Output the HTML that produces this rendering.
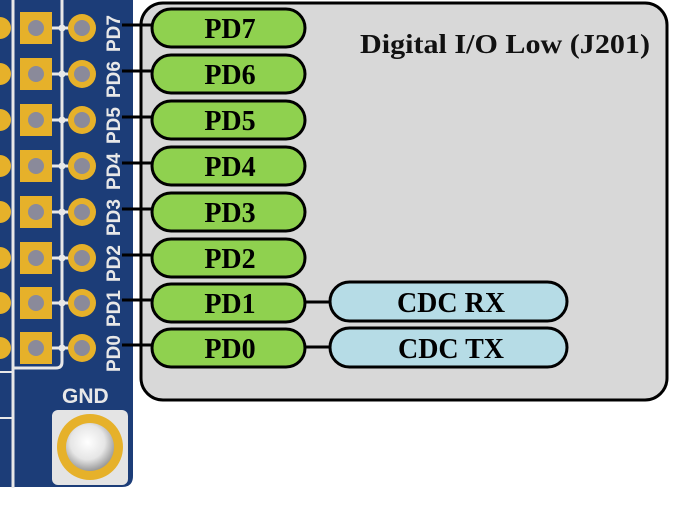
<!DOCTYPE html>
<html><head><style>
html,body{margin:0;padding:0;background:#fff;}
svg{display:block;}
</style></head><body>
<svg width="682" height="507" viewBox="0 0 682 507" xmlns="http://www.w3.org/2000/svg">
<defs>
<radialGradient id="g" cx="0.45" cy="0.4" r="0.6"><stop offset="0" stop-color="#fff"/><stop offset="0.6" stop-color="#e6e6e6"/><stop offset="1" stop-color="#9a9a9a"/></radialGradient>
</defs>
<path d="M0 0 H133 V476 Q133 487 122 487 H0 Z" fill="#1c3d78"/>
<path d="M13 0 V488" stroke="#e8e8e8" stroke-width="3" fill="none"/>
<path d="M62 0 V362 Q62 368 56 368 H13" stroke="#e8e8e8" stroke-width="3" fill="none"/>
<path d="M0 372 H13 M0 418 H13" stroke="#e8e8e8" stroke-width="2"/>
<g id="rows"></g>
<g font-family="Liberation Sans, sans-serif" font-weight="bold" font-size="19" fill="#e8e8e8">
<text transform="translate(120,52) rotate(-90)">PD7</text>
<text transform="translate(120,98) rotate(-90)">PD6</text>
<text transform="translate(120,144) rotate(-90)">PD5</text>
<text transform="translate(120,190) rotate(-90)">PD4</text>
<text transform="translate(120,236) rotate(-90)">PD3</text>
<text transform="translate(120,282) rotate(-90)">PD2</text>
<text transform="translate(120,327) rotate(-90)">PD1</text>
<text transform="translate(120,372) rotate(-90)">PD0</text>
<text x="62" y="403" font-size="21">GND</text>
</g>
<rect x="52" y="410" width="76" height="75" rx="6" fill="#e4e4e4"/>
<circle cx="90" cy="447" r="33" fill="#e6b12a"/>
<circle cx="90" cy="447" r="24" fill="url(#g)"/>
<rect x="141" y="3" width="526" height="397" rx="22" fill="#d8d8d8" stroke="#000" stroke-width="3"/>
<text x="360" y="53" font-family="Liberation Serif, serif" font-weight="bold" font-size="27" fill="#111" textLength="290" lengthAdjust="spacingAndGlyphs">Digital I/O Low (J201)</text>
<g id="pins"></g>
<g stroke="#000" stroke-width="3">
<line x1="305" y1="302" x2="330" y2="302"/>
<line x1="305" y1="347" x2="330" y2="347"/>
<rect x="330" y="282" width="237" height="39" rx="19.5" fill="#b6dce6"/>
<rect x="330" y="328" width="237" height="39" rx="19.5" fill="#b6dce6"/>
</g>
<g font-family="Liberation Serif, serif" font-weight="bold" font-size="28" text-anchor="middle" fill="#000">
<text x="451" y="312">CDC RX</text>
<text x="451" y="358">CDC TX</text>
</g>
<script>
var ys=[28,74,120,166,212,258,303,348],labels=["PD7","PD6","PD5","PD4","PD3","PD2","PD1","PD0"];
var ns="http://www.w3.org/2000/svg",r=document.getElementById("rows"),p=document.getElementById("pins");
function el(g,t,a,txt){var e=document.createElementNS(ns,t);for(var k in a)e.setAttribute(k,a[k]);if(txt)e.textContent=txt;g.appendChild(e);return e;}
ys.forEach(function(y,i){
el(r,"circle",{cx:0,cy:y,r:11,fill:"#e6b12a"});
el(r,"circle",{cx:62,cy:y,r:3.5,fill:"#e8e8e8"});
el(r,"line",{x1:52,y1:y,x2:70,y2:y,stroke:"#e8e8e8","stroke-width":3});
el(r,"rect",{x:20,y:y-16,width:32,height:32,fill:"#e6b12a"});
el(r,"circle",{cx:36,cy:y,r:8,fill:"#8a8a9a"});
el(r,"circle",{cx:82,cy:y,r:14,fill:"#e6b12a"});
el(r,"circle",{cx:82,cy:y,r:8,fill:"#8a8a9a"});
el(p,"line",{x1:122,y1:y-3,x2:152,y2:y-3,stroke:"#000","stroke-width":3});
el(p,"rect",{x:152,y:y-19,width:153,height:38,rx:19,fill:"#8fd14f",stroke:"#000","stroke-width":3});
el(p,"text",{x:230,y:y+10,"font-family":"Liberation Serif, serif","font-weight":"bold","font-size":"28","text-anchor":"middle",fill:"#000"},labels[i]);
});
</script>
</svg>
</body></html>
